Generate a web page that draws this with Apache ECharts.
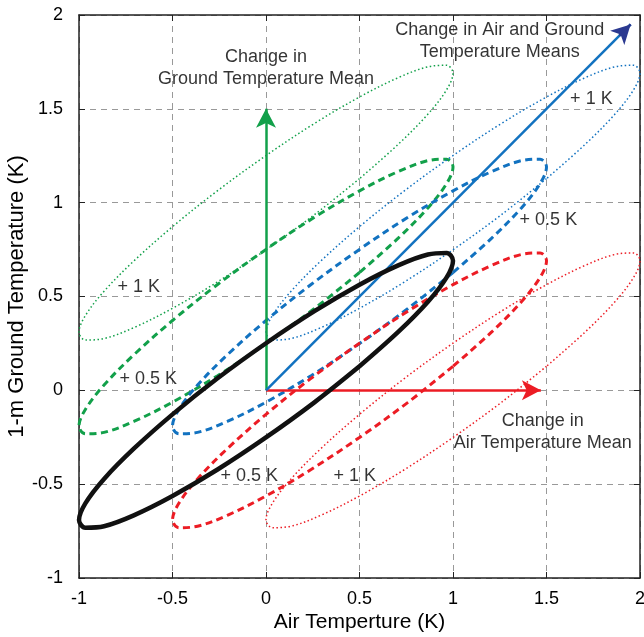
<!DOCTYPE html>
<html>
<head>
<meta charset="utf-8">
<script src="https://cdn.jsdelivr.net/npm/echarts@6/dist/echarts.min.js"></script>
<style>
html,body{margin:0;padding:0;background:#fff;}
#chart{width:644px;height:637px;}
</style>
</head>
<body>
<div id="chart"></div>
<script>
// Axis ticks
var xTicks = [-1, -0.5, 0, 0.5, 1, 1.5, 2];
var yTicks = [-1, -0.5, 0, 0.5, 1, 1.5, 2];

// Base (observed) ellipse outline (x, y pairs in K)
var ellipseX = [0.5, 0.259, 0, -0.259, -0.5, -0.707, -0.866, -0.966, -1.0, -0.966, -0.866, -0.707, -0.5, -0.259, 0, 0.259, 0.5, 0.707, 0.866, 0.966, 1.0, 0.966, 0.866, 0.707, 0.5];
var ellipseY = [0.128, -0.064, -0.251, -0.422, -0.563, -0.666, -0.724, -0.732, -0.691, -0.602, -0.472, -0.311, -0.128, 0.064, 0.251, 0.422, 0.563, 0.666, 0.724, 0.732, 0.691, 0.602, 0.472, 0.311, 0.128];

// Shifted ellipses: names, centre shifts
var ellipseNames = ['Ground +1 K', 'Ground +0.5 K', 'Both +1 K', 'Both +0.5 K', 'Air +1 K', 'Air +0.5 K', 'Observed'];
var shiftX = [0, 0, 1, 0.5, 1, 0.5, 0];
var shiftY = [1, 0.5, 1, 0.5, 0, 0, 0];

// Mean-change arrows
var arrowNames = ['Ground mean', 'Air mean', 'Both means'];
var arrowStartX = [0, 0, 0];
var arrowStartY = [0, 0, 0];
var arrowEndX = [0, 1.47, 1.95];
var arrowEndY = [1.5, 0, 1.95];

// Annotations
var noteText = ['Change in\nGround Temperature Mean', 'Change in Air and Ground\nTemperature Means', 'Change in\nAir Temperature Mean'];
var noteX = [0, 1.25, 1.48];
var noteY = [1.72, 1.86, -0.22];
var kText = ['+ 1 K', '+ 0.5 K', '+ 0.5 K', '+ 1 K', '+ 0.5 K', '+ 1 K'];
var kX = [-0.68, -0.63, -0.09, 0.475, 1.51, 1.74];
var kY = [0.55, 0.06, -0.455, -0.455, 0.91, 1.55];

var GREEN = '#12a04a', BLUE = '#1272c0', RED = '#ec1c24', NAVY = '#2b3990', BLACK = '#111111';
var TEXT = '#000000';
var ellipseStyles = [
  {color: GREEN, width: 1.5, type: [1.5, 2.5]},
  {color: GREEN, width: 3, type: [7, 4.5]},
  {color: BLUE, width: 1.5, type: [1.5, 2.5]},
  {color: BLUE, width: 3, type: [7, 4.5]},
  {color: RED, width: 1.5, type: [1.5, 2.5]},
  {color: RED, width: 3, type: [7, 4.5]},
  {color: BLACK, width: 4.5, type: 'solid'}
];
var arrowColors = [GREEN, RED, BLUE];

var FONT = '"Liberation Sans", Arial, Helvetica, sans-serif';
var series = [];

ellipseNames.forEach(function (name, i) {
  var pts = ellipseX.map(function (x, k) { return [x + shiftX[i], ellipseY[k] + shiftY[i]]; });
  var st = ellipseStyles[i];
  series.push({
    name: name, type: 'line', data: pts, smooth: 0.35, showSymbol: false, symbol: 'none',
    lineStyle: {color: st.color, width: st.width, type: st.type, cap: 'butt'},
    z: i === 6 ? 5 : 3, silent: true, clip: true
  });
});

arrowNames.forEach(function (name, i) {
  var isBoth = (i === 2);
  series.push({
    name: name, type: 'line', data: [], silent: true, z: 4,
    markLine: {
      silent: true, animation: false,
      symbol: isBoth ? ['none', 'none'] : ['none', 'arrow'],
      symbolSize: [15, 19],
      label: {show: false},
      lineStyle: {color: arrowColors[i], width: 2.5, type: 'solid'},
      emphasis: {disabled: true},
      data: [[{coord: [arrowStartX[i], arrowStartY[i]]}, {coord: [arrowEndX[i], arrowEndY[i]]}]]
    }
  });
});
// navy arrowhead on the combined-means arrow
series.push({
  name: 'Both means head', type: 'line', data: [], silent: true, z: 4,
  markLine: {
    silent: true, animation: false, symbol: ['none', 'arrow'], symbolSize: [15, 19],
    label: {show: false}, lineStyle: {color: NAVY, width: 2.5, type: 'solid'},
    emphasis: {disabled: true},
    data: [[{coord: [arrowEndX[2] - 0.06, arrowEndY[2] - 0.06]}, {coord: [arrowEndX[2], arrowEndY[2]]}]]
  }
});

series.push({
  name: 'notes', type: 'scatter', symbolSize: 0, silent: true, z: 6,
  data: noteText.map(function (t, i) { return {value: [noteX[i], noteY[i]], name: t}; }),
  label: {show: true, position: 'inside', formatter: function (p) { return p.name; },
    color: TEXT, fontSize: 18, lineHeight: 22, fontFamily: FONT, align: 'center', verticalAlign: 'middle'}
});
series.push({
  name: 'klabels', type: 'scatter', symbolSize: 0, silent: true, z: 6,
  data: kText.map(function (t, i) { return {value: [kX[i], kY[i]], name: t}; }),
  label: {show: true, position: 'inside', formatter: function (p) { return p.name; },
    color: TEXT, fontSize: 18, fontFamily: FONT, align: 'center', verticalAlign: 'middle'}
});

var axisCommon = {
  type: 'value', min: -1, max: 2, interval: 0.5,
  axisLine: {show: true, onZero: false, lineStyle: {color: '#222', width: 1.5}},
  axisTick: {show: true, inside: true, length: 6, lineStyle: {color: '#222', width: 1}},
  splitLine: {show: true, lineStyle: {color: '#999', width: 1, type: [6, 5]}},
  axisLabel: {color: TEXT, fontSize: 18, fontFamily: FONT, margin: 12,
    formatter: function (v) { return String(Math.round(v * 10) / 10); }}
};
function clone(o) { return JSON.parse(JSON.stringify(o)); }

var xMain = Object.assign(clone(axisCommon), {
  position: 'bottom', name: 'Air Temperture (K)', nameLocation: 'middle', nameGap: 34,
  nameMoveOverlap: false,
  nameTextStyle: {color: TEXT, fontSize: 21, fontFamily: FONT}
});
xMain.axisLabel.formatter = axisCommon.axisLabel.formatter;
var yMain = Object.assign(clone(axisCommon), {
  position: 'left', name: '1-m Ground Temperature (K)', nameLocation: 'middle', nameGap: 51,
  nameMoveOverlap: false,
  nameTextStyle: {color: TEXT, fontSize: 22, fontFamily: FONT}
});
yMain.axisLabel.formatter = axisCommon.axisLabel.formatter;
yMain.axisLabel.margin = 16;
var xTop = Object.assign(clone(axisCommon), {position: 'top', axisLabel: {show: false}, splitLine: {show: false}});
var yRight = Object.assign(clone(axisCommon), {position: 'right', axisLabel: {show: false}, splitLine: {show: false}});

var chart = echarts.init(document.getElementById('chart'), null, {renderer: 'canvas'});
chart.setOption({
  animation: false,
  backgroundColor: '#fff',
  grid: {left: 79, right: 4, top: 15, bottom: 59, containLabel: false, outerBoundsMode: 'none'},
  xAxis: [xMain, xTop],
  yAxis: [yMain, yRight],
  series: series
});
</script>
</body>
</html>
